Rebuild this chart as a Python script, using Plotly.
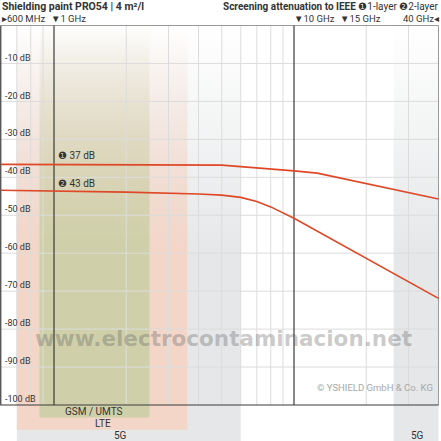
import math
import plotly.graph_objects as go

# attenuation curves (frequency in GHz, attenuation in dB)
freq_1layer = [0.6, 3, 5, 10, 12.5, 40]
att_1layer = [-36.6, -36.7, -36.8, -38.3, -38.9, -45.7]
freq_2layer = [0.6, 2, 4, 5, 6, 7, 8, 9, 10, 40]
att_2layer = [-43.4, -43.9, -44.4, -44.7, -45.3, -46.4, -47.8, -49.3, -50.8, -71.9]

# mobile bands drawn behind the curves
band_names = ["5G", "5G", "LTE", "GSM / UMTS"]
band_lo = [0.7, 26, 0.7, 0.87]
band_hi = [6, 40, 3.6, 2.5]
band_bottom = [-109.5, -109.5, -106.5, -103.3]
band_rgb = ["229,231,232", "229,231,232", "243,214,200", "207,208,170"]

db_ticks = [-10, -20, -30, -40, -50, -60, -70, -80, -90, -100]
db_labels = [f"{v} dB" for v in db_ticks]
minor_freqs = [0.7, 0.8, 0.9, 2, 3, 4, 5, 6, 7, 8, 9, 20, 30]
major_freqs = [1, 10]
f_min, f_max = 0.6, 40

FONT = "Roboto, 'Open Sans', sans-serif"
RED = "rgb(222,72,38)"

fig = go.Figure()

# bands with a vertical fade towards the top
for name, lo, hi, bot, rgb in zip(band_names, band_lo, band_hi, band_bottom, band_rgb):
    fig.add_trace(go.Scatter(
        x=[lo, hi, hi, lo, lo], y=[bot, bot, 0, 0, bot],
        mode="lines", line=dict(width=0), fill="toself",
        fillgradient=dict(
            type="vertical", start=bot, stop=0,
            colorscale=[[0, f"rgba({rgb},1)"], [0.45, f"rgba({rgb},1)"],
                        [1, f"rgba({rgb},0)"]]),
        hoverinfo="skip", showlegend=False))

# grid
gx, gy = [], []
for f in minor_freqs:
    gx += [f, f, None]
    gy += [-100, 0, None]
for d in db_ticks[:-1]:
    gx += [f_min, f_max, None]
    gy += [d, d, None]
fig.add_trace(go.Scatter(x=gx, y=gy, mode="lines", line=dict(color="#dcdcdc", width=1),
                         hoverinfo="skip", showlegend=False))

# frame: light top/right, dark left/bottom and the decade lines
fig.add_trace(go.Scatter(x=[f_min, f_max, f_max], y=[0, 0, -100], mode="lines",
                         line=dict(color="#9a9a9a", width=1), hoverinfo="skip", showlegend=False))
mx, my = [f_max, f_min, f_min, None], [-100, -100, 0, None]
for f in major_freqs:
    mx += [f, f, None]
    my += [-100, 0, None]
fig.add_trace(go.Scatter(x=mx, y=my, mode="lines", line=dict(color="#3a3a3a", width=1.2),
                         hoverinfo="skip", showlegend=False))

# curves
fig.add_trace(go.Scatter(x=freq_1layer, y=att_1layer, mode="lines", name="1-layer",
                         line=dict(color=RED, width=1.6), showlegend=False))
fig.add_trace(go.Scatter(x=freq_2layer, y=att_2layer, mode="lines", name="2-layer",
                         line=dict(color=RED, width=1.6), showlegend=False))


def px(x, y, text, size=9.5, color="#333", xanchor="left", yanchor="middle", family=FONT):
    # place a text at a pixel position of the 441x441 canvas
    fig.add_annotation(x=x / 441, y=1 - y / 441, xref="paper", yref="paper", text=text,
                       showarrow=False, xanchor=xanchor, yanchor=yanchor,
                       font=dict(size=size, color=color, family=family))


px(0, 6, "<b>Shielding paint PRO54 | 4 m²/l</b>", size=10.5)
px(440, 6, "<b>Screening attenuation to IEEE</b> ❶1-layer ❷2-layer", size=10, xanchor="right")
px(0, 18, "▸600 MHz", size=9.5)
px(49, 18, "▼1 GHz", size=9.5)
px(292, 18, "▼10 GHz", size=9.5)
px(338, 18, "▼15 GHz", size=9.5)
px(441, 18, "40 GHz◂", size=9.5, xanchor="right")

px(56, 156, "❶ 37 dB", size=10)
px(56, 183, "❷ 43 dB", size=10)

px(223, 338, "<b>www.electrocontaminacion.net</b>", size=21.5, color="rgba(90,90,90,0.33)",
   xanchor="center", family="'DejaVu Sans', sans-serif")
fig.add_annotation(x=435 / 441, y=1 - 395 / 441, xref="paper", yref="paper",
                   text="© YSHIELD GmbH & Co. KG", showarrow=False, xanchor="right",
                   font=dict(size=9.5, color="#a8a8a8", family=FONT))

label_px = [120, 417, 103, 94]
label_py = [435, 435, 423, 411]
for name, lx, ly in zip(band_names, label_px, label_py):
    px(lx, ly, name, size=10, xanchor="center")

for d, lab in zip(db_ticks, db_labels):
    fig.add_annotation(x=3 / 441, y=d - 0.3, xref="paper", yref="y", text=lab,
                       showarrow=False, xanchor="left", yanchor="bottom",
                       font=dict(size=9, color="#333", family=FONT))

fig.update_layout(
    width=441, height=441,
    margin=dict(l=0, r=0, t=0, b=0),
    plot_bgcolor="white", paper_bgcolor="white",
)
fig.update_xaxes(type="log", range=[-54 / 240, -54 / 240 + 441 / 240],
                 showgrid=False, zeroline=False, showticklabels=False, ticks="")
fig.update_yaxes(range=[-(441 - 25.5) / 3.795, 25.5 / 3.795], showgrid=False,
                 zeroline=False, showticklabels=False, ticks="")

fig.write_html("out.html", config={"displayModeBar": False},
               post_script="document.body.style.margin='0';")
